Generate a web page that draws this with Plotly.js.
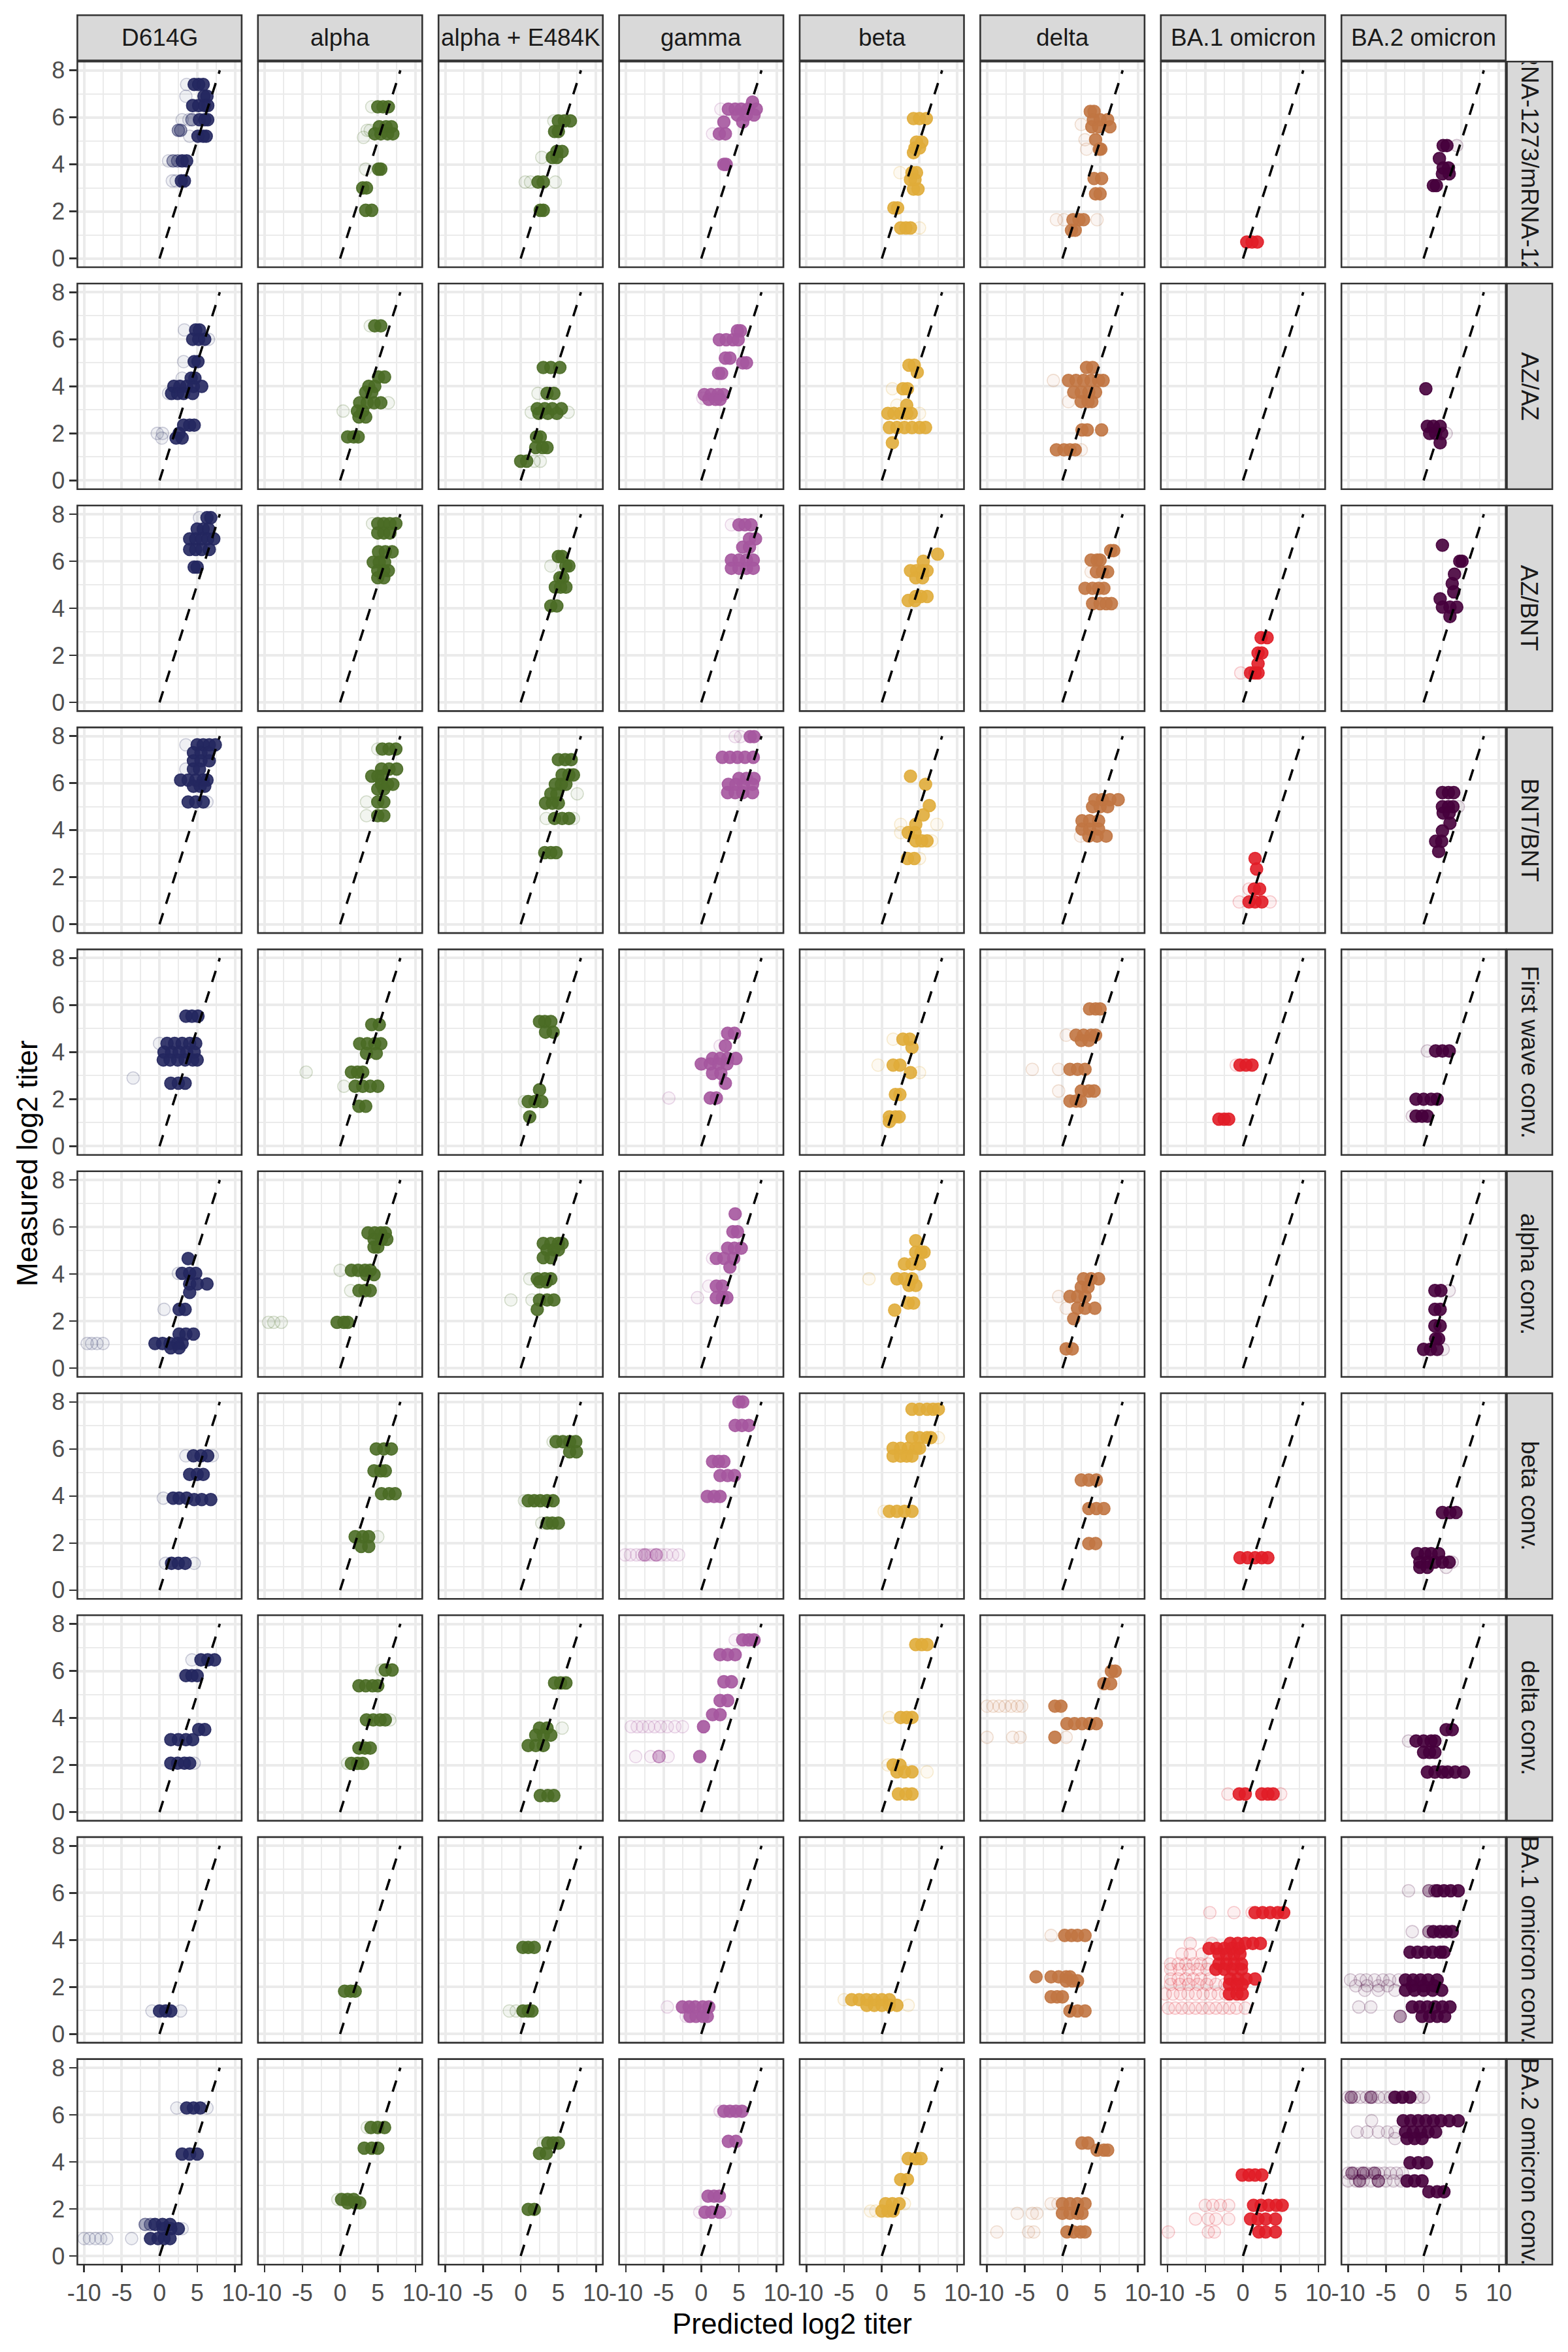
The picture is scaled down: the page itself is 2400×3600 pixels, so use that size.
<!DOCTYPE html>
<html><head><meta charset="utf-8">
<script src="https://cdn.plot.ly/plotly-3.0.1.min.js"></script>
<style>html,body{margin:0;padding:0;background:#fff}#plot{width:2400px;height:3600px}</style>
</head><body><div id="plot"></div>
<script>
// ---------------- data ----------------
const variants = ["D614G","alpha","alpha + E484K","gamma","beta","delta","BA.1 omicron","BA.2 omicron"];
const sera = ["mRNA-1273/mRNA-1273","AZ/AZ","AZ/BNT","BNT/BNT","First wave conv.","alpha conv.","beta conv.","delta conv.","BA.1 omicron conv.","BA.2 omicron conv."];
const variantColors = ["#23275F","#4A6C25","#4A6C25","#A5579F","#E0AC3A","#C17642","#E11D27","#46003C"];
const xTicks = [-10,-5,0,5,10];
const xTickText = ["-10","-5","0","5","10"];
const yTicks = [0,2,4,6,8];
const xMinor = [-7.5,-2.5,2.5,7.5];
const yMinor = [1,3,5,7];
const identityLine = [0,8];
// each panel: clusters of [measured titer, opacity level, [predicted titers...]]
const mrna1273 = [
 [[7.4,1,[4.6,5.2,5.8]],[7.4,0.12,[3.6]],[6.9,0.12,[3.5]],[6.9,1,[5.9,6.3]],[6.5,1,[4.4,5.2,6.0,6.4]],[5.9,0.12,[3.0,3.9]],[5.9,0.4,[4.3]],[5.9,1,[5.3,6.0,6.4]],[5.45,0.4,[2.5,2.8]],[5.2,0.12,[4.0]],[5.2,1,[5.1,5.8,6.2]],[4.15,0.12,[1.2]],[4.15,0.4,[1.8,2.4]],[4.15,1,[3.0,3.6]],[3.3,0.12,[1.7,2.2]],[3.3,1,[2.9,3.3]]],
 [[6.45,0.12,[4.2]],[6.45,1,[5.0,5.7,6.4]],[5.6,1,[5.2,6.1,6.8]],[5.3,1,[4.6,5.4,6.3,7.0]],[5.45,0.12,[3.6,4.0]],[5.15,0.12,[3.1]],[3.8,0.12,[3.4]],[3.8,1,[5.1,5.4]],[3.0,1,[3.0,3.5]],[2.05,1,[3.4,4.2]]],
 [[5.85,1,[5.0,5.8,6.6]],[5.85,0.12,[4.4]],[5.4,1,[4.5,5.0]],[4.55,1,[4.8,5.5]],[4.3,1,[4.2,4.8]],[4.3,0.12,[2.8]],[3.25,0.12,[0.6,1.3,4.6]],[3.25,1,[2.3,3.0]],[2.05,1,[2.6,3.0]]],
 [[6.65,1,[6.8]],[6.35,0.12,[2.6]],[6.35,1,[3.6,4.5,5.3,6.2,7.3]],[6.1,1,[4.8,6.0,7.0]],[5.8,1,[3.0,5.5]],[5.3,1,[2.4,3.2]],[5.3,0.12,[1.5]],[4.0,1,[3.0,3.3]]],
 [[5.95,1,[4.2,5.0,5.9]],[4.95,1,[4.6,5.3]],[4.7,1,[4.4,5.0]],[4.5,1,[4.2]],[3.65,0.12,[2.4]],[3.65,1,[4.0,4.6]],[3.35,1,[3.8,4.4]],[2.95,1,[4.2,4.8]],[2.15,1,[1.6,2.1]],[1.3,1,[2.5,3.2,3.8]],[1.3,0.12,[5.0]]],
 [[6.25,1,[3.7,4.2]],[5.9,1,[4.1,5.0,6.0]],[5.7,0.12,[2.5]],[5.6,1,[3.9,4.8,6.3]],[5.05,0.12,[3.0]],[5.05,1,[4.4]],[4.65,0.12,[3.2]],[4.65,1,[4.9,5.1]],[3.4,1,[4.2,5.2]],[2.75,1,[4.4,5.0]],[1.65,0.12,[-0.8,0.2,4.6]],[1.65,1,[1.4,2.2,2.8]],[1.2,1,[1.2,1.7]]],
 [[0.7,1,[0.5,1.2,1.9]]],
 [[4.8,1,[2.6,3.1]],[4.8,0.12,[4.4]],[4.25,1,[2.1]],[3.85,1,[2.6,3.3]],[3.6,1,[2.5,3.4]],[3.1,1,[1.3,1.7]]]
];
const azAz = [
 [[6.4,0.12,[3.3]],[6.4,1,[4.8,5.3]],[6.0,1,[4.4,5.2,6.0]],[6.0,0.12,[6.5]],[5.05,0.12,[3.2]],[5.05,1,[4.6,5.1]],[4.35,0.12,[3.0]],[4.35,1,[4.2,4.7]],[4.0,1,[1.9,2.7,3.6,4.5,5.6]],[3.7,1,[1.6,2.4,3.2,4.4]],[3.7,0.12,[1.2]],[2.35,1,[3.2,4.0,4.6]],[2.0,0.12,[-0.3,0.4]],[2.0,1,[2.6]],[1.8,1,[2.2,3.0]],[1.8,0.12,[0.3]]],
 [[6.57,0.12,[4.0]],[6.57,1,[4.6,5.4]],[4.4,1,[5.1,5.9]],[4.0,1,[3.8,4.6]],[3.75,1,[3.4,4.2]],[3.3,1,[2.6,3.6,4.5,5.4]],[3.3,0.12,[6.4]],[2.95,0.12,[0.4]],[2.95,1,[2.3,3.0]],[2.7,1,[2.5,3.4]],[1.85,1,[1.0,1.8,2.4]]],
 [[4.8,1,[3.0,4.0,5.2]],[3.7,0.12,[2.3]],[3.7,1,[3.5,4.4]],[3.05,1,[2.2,3.2,4.2,5.4]],[2.85,1,[2.4,3.6,4.8]],[2.9,0.12,[1.4,6.3]],[1.85,1,[2.1,2.6]],[1.4,1,[2.0,2.9,3.5]],[0.82,1,[0.0,0.8]],[0.82,0.12,[1.8,2.6]]],
 [[6.36,1,[4.8,5.2]],[5.98,1,[2.4,3.3,4.2,4.9]],[5.2,1,[3.2,3.8]],[5.0,1,[5.5,6.0]],[4.55,1,[2.3,2.7]],[3.65,1,[0.4,1.3,2.2,2.9]],[3.45,1,[1.0,1.9,2.5]],[3.5,0.12,[0.2]]],
 [[4.9,1,[3.6,4.3]],[4.6,1,[4.7]],[3.9,0.12,[1.4]],[3.9,1,[2.8,3.4]],[3.2,0.12,[2.0]],[3.2,1,[3.3]],[2.85,1,[0.8,1.6,2.5,3.3,3.9]],[2.85,0.12,[5.0]],[2.25,1,[1.0,2.0,3.0,4.0,5.0,5.8]],[1.6,1,[1.4]]],
 [[4.8,1,[3.2,4.0]],[4.25,0.12,[-1.2]],[4.25,1,[0.8,1.8,2.8,3.8,4.8,5.4]],[3.75,1,[1.5,2.5,3.5,4.4]],[3.35,0.12,[0.8]],[3.35,1,[2.5,3.4,3.9]],[2.15,1,[2.6,3.3,5.2]],[1.3,1,[-0.8,0.2,1.0,1.7]],[1.3,0.12,[2.5]]],
 [],
 [[3.9,1,[0.3]],[2.3,1,[0.5,1.3,2.2]],[2.0,1,[0.8,1.6,2.4]],[2.0,0.12,[3.0]],[1.6,1,[2.2]]]
];
const azBnt = [
 [[7.85,0.12,[5.3]],[7.85,1,[6.3,6.8]],[7.37,1,[5.0,5.8,6.5]],[6.95,1,[4.0,4.8,5.6,6.4,7.2]],[6.5,1,[4.0,4.8,5.6,6.6]],[5.75,1,[4.6,5.0]]],
 [[7.6,0.12,[4.3]],[7.6,1,[5.0,5.8,6.6,7.4]],[7.2,1,[5.0,5.8,6.6]],[6.4,1,[5.1,6.0,6.9]],[5.96,1,[4.4,5.2,5.9]],[5.6,1,[5.0,5.8,6.4]],[5.3,1,[5.0,5.8]]],
 [[6.2,1,[5.0,5.5]],[5.8,0.12,[4.0]],[5.8,1,[6.0,6.4]],[5.3,1,[5.2,5.6]],[4.9,1,[4.6,5.3,6.0]],[4.1,1,[4.0,4.8]]],
 [[7.55,0.12,[4.0]],[7.55,1,[5.0,5.8,6.6]],[6.95,1,[6.4,7.2]],[6.6,1,[5.5,6.4]],[6.05,1,[4.0,5.0,6.0,6.9]],[5.7,1,[4.0,5.0,6.0,6.9]]],
 [[6.3,1,[7.4]],[6.0,1,[5.5]],[5.6,1,[3.8,4.6,5.4,6.0]],[5.3,1,[4.5,5.4]],[4.5,1,[4.5,5.2,6.0]],[4.33,1,[3.5,4.4]]],
 [[6.45,1,[6.4,6.8]],[6.05,1,[3.8,4.6,5.0]],[5.55,1,[4.5,5.3,6.0]],[5.55,0.12,[3.8]],[4.85,1,[3.0,4.0,4.8,5.5]],[4.2,1,[4.0,5.0,5.8,6.5]]],
 [[2.75,1,[2.4,3.2]],[2.1,1,[2.0,2.5]],[1.65,1,[2.0]],[1.25,1,[1.0,1.6,2.0]],[1.25,0.12,[-0.3]]],
 [[6.68,1,[2.5]],[6.0,1,[4.8,5.1]],[5.45,1,[4.1]],[5.05,1,[3.8]],[4.7,1,[4.0]],[4.4,1,[2.2]],[4.05,1,[2.5,3.5,4.4]],[3.65,1,[3.5]]]
];
const bntBnt = [
 [[7.63,0.12,[3.5]],[7.63,1,[5.0,5.8,6.6,7.4]],[7.3,1,[4.5,5.5,6.5]],[6.95,1,[4.5,5.5,6.6]],[6.6,0.12,[3.5]],[6.6,1,[4.5,5.3]],[6.13,1,[2.8,3.8,4.8,5.8,6.3]],[5.87,1,[4.5,5.4,6.0]],[5.2,1,[3.8,4.8,5.8]],[5.2,0.12,[6.3]]],
 [[7.45,0.12,[5.0]],[7.45,1,[5.6,6.5,7.4]],[6.6,1,[5.5,6.5,7.5]],[6.3,1,[4.2,5.0,5.5]],[5.95,1,[5.5,6.3,7.0]],[5.75,1,[5.0,5.8]],[5.2,0.12,[3.5]],[5.2,1,[5.0,5.8]],[4.62,0.12,[3.5]],[4.62,1,[5.0,5.8]]],
 [[7.0,1,[5.0,5.9,6.7]],[6.35,1,[5.5,6.4,7.0]],[5.95,1,[4.6,5.4,6.0]],[5.55,1,[4.0,4.8]],[5.55,0.12,[7.5]],[5.15,1,[3.3,4.2,5.0]],[4.5,1,[4.5,5.5,6.4]],[4.5,0.12,[3.4,7.0]],[3.05,1,[3.2,4.0,4.7]]],
 [[7.98,0.12,[4.5,5.2]],[7.98,1,[6.5,7.0]],[7.1,1,[2.8,3.8,4.8,5.8,6.9]],[6.2,1,[5.0,6.0,7.0]],[5.95,1,[3.6,4.6,5.6,6.8]],[5.6,1,[3.5,4.5,5.5,6.8]]],
 [[6.3,1,[3.8]],[5.95,1,[5.8]],[5.05,1,[6.3]],[4.65,1,[5.5]],[4.25,1,[4.5]],[4.25,0.12,[2.5,7.3]],[3.9,0.12,[2.5]],[3.9,1,[3.5,4.4]],[3.55,1,[4.5,5.3,6.0]],[3.55,0.12,[6.6]],[2.8,1,[3.4,4.3]],[2.8,0.12,[5.0]]],
 [[5.3,1,[4.3,5.3,6.3,7.4]],[5.0,1,[4.0,5.0,6.0]],[4.4,1,[2.6,3.6,4.8]],[4.05,1,[2.6,3.6,4.8]],[3.75,0.12,[2.4]],[3.75,1,[3.5,4.6,5.8]]],
 [[2.8,1,[1.6]],[2.35,1,[1.8]],[1.5,1,[1.5,2.2]],[1.5,0.12,[0.8]],[0.95,0.12,[-0.5,3.6]],[0.95,1,[0.8,1.6,2.5]]],
 [[5.6,1,[2.5,3.3,4.0]],[5.0,1,[2.5,3.3,3.9]],[5.0,0.12,[4.6]],[4.73,1,[2.6,3.4]],[4.3,1,[3.5]],[3.97,1,[2.5]],[3.53,1,[1.6,2.4]],[3.1,1,[2.0]]]
];
const firstWaveConv = [
 [[5.53,1,[3.5,4.3,5.1]],[4.37,0.12,[0.0]],[4.37,1,[1.0,2.0,3.0,4.0,4.8]],[4.0,1,[0.6,1.6,2.6,3.6,4.6]],[3.67,1,[0.5,1.4,2.4,3.4,4.4,5.0]],[2.9,0.12,[-3.5]],[2.68,1,[1.5,2.5,3.4]]],
 [[5.17,1,[4.2,5.2]],[4.36,1,[2.6,3.6,4.6,5.4]],[3.95,1,[3.5,4.8]],[3.15,0.12,[-4.5]],[3.15,1,[1.5,2.3,3.0]],[2.55,0.12,[0.5]],[2.55,1,[2.0,3.0,4.0,5.0]],[1.7,1,[2.5,3.4]]],
 [[5.3,1,[2.5,3.2,4.0]],[4.85,1,[3.3,4.3]],[2.4,1,[2.5]],[1.9,0.12,[0.5]],[1.9,1,[1.0,1.9,2.8]],[1.25,1,[1.2]]],
 [[4.8,1,[3.5,4.4]],[4.27,0.12,[2.5]],[4.27,1,[3.2]],[3.73,1,[1.5,2.5,3.5,4.6]],[3.5,0.12,[0.5]],[3.5,1,[0.0,1.2,2.3,3.4]],[3.1,1,[1.5,2.6]],[2.68,1,[3.2]],[2.05,0.12,[-4.3]],[2.05,1,[1.2,2.0]]],
 [[4.55,0.12,[1.5]],[4.55,1,[2.8,3.7]],[4.2,1,[4.0]],[3.45,0.12,[-0.5]],[3.45,1,[1.5,2.4]],[3.13,1,[3.8]],[3.13,0.12,[5.0]],[2.2,1,[1.8,2.4]],[1.25,1,[1.0,1.8,2.3]],[1.05,1,[1.0]]],
 [[5.84,1,[3.6,4.4,5.0]],[4.72,0.12,[0.5]],[4.72,1,[1.8,2.8,3.8,4.4]],[4.5,1,[2.5,3.5]],[3.27,0.12,[-4.0,-0.5]],[3.27,1,[1.0,2.0,3.0]],[2.35,0.12,[-0.5]],[2.35,1,[2.5,3.5,4.2]],[1.92,1,[1.0,1.8,2.4]]],
 [[3.45,0.12,[-0.9]],[3.45,1,[-0.4,0.4,1.2]],[1.15,1,[-3.2,-2.5,-1.9]]],
 [[4.05,0.12,[0.5]],[4.05,1,[1.6,2.5,3.4]],[2.0,1,[-1.0,0.0,1.0,1.8]],[1.28,0.12,[-1.5]],[1.28,1,[-1.0,-0.2,0.5]]]
];
const alphaConv = [
 [[4.66,1,[3.8]],[4.03,0.12,[2.5]],[4.03,1,[3.0,4.0,4.8]],[3.58,1,[4.0,5.0,6.3]],[3.22,1,[4.0]],[2.5,0.12,[0.6]],[2.5,1,[2.6,3.4]],[1.45,1,[2.6,3.5,4.5]],[1.05,0.12,[-9.6,-9.0,-8.3,-7.5]],[1.05,1,[-0.6,0.4,1.4,2.4,3.0]],[0.87,1,[1.5,2.6]]],
 [[5.75,1,[3.7,4.6,5.4,6.0]],[5.48,1,[4.5,5.5,6.2]],[5.15,1,[4.5,5.0]],[4.16,0.12,[0.0]],[4.16,1,[1.5,2.4,3.3,4.0]],[3.98,1,[3.5,4.5]],[3.3,0.12,[1.4]],[3.3,1,[2.5,3.3,4.0]],[1.95,0.12,[-9.5,-8.8,-7.8]],[1.95,1,[-0.4,0.5,1.0]]],
 [[5.3,1,[3.0,4.0,5.0,5.5]],[5.03,1,[3.5,4.4,5.0]],[4.7,1,[3.0,4.0]],[3.8,0.12,[1.2]],[3.8,1,[2.2,3.2,4.0]],[3.67,1,[2.5,3.4]],[2.9,0.12,[-1.3,1.5]],[2.9,1,[2.5,3.5,4.4]],[2.5,1,[2.2]]],
 [[6.56,1,[4.5]],[5.8,1,[4.2,4.8]],[5.1,1,[3.5,4.4,5.3]],[4.67,0.12,[1.5]],[4.67,1,[2.0,3.0,4.3]],[4.3,1,[3.8]],[3.49,0.12,[1.0]],[3.49,1,[2.0,2.8]],[3.0,0.12,[-0.5]],[3.0,1,[2.0,2.8,3.4]]],
 [[5.42,1,[4.5]],[4.93,1,[4.5,5.2,5.6]],[4.43,1,[3.0,4.0,5.0]],[3.8,0.12,[-1.7]],[3.8,1,[2.0,3.0,4.0]],[3.52,1,[3.6,4.5]],[2.77,1,[3.5,4.2]],[2.47,1,[1.7]]],
 [[3.8,1,[2.8,3.8,4.8]],[3.45,1,[2.5,3.4]],[3.05,0.12,[-0.5]],[3.05,1,[1.0,2.0,3.0]],[2.55,0.12,[0.5]],[2.55,1,[2.0,3.0,4.3]],[2.1,1,[1.5]],[0.82,1,[0.5,1.3]]],
 [],
 [[3.3,1,[1.5,2.3]],[3.3,0.12,[3.4]],[2.5,1,[1.5,2.2]],[1.8,1,[1.5,2.2]],[1.25,1,[1.6,2.0]],[0.8,1,[0.0,0.9,1.8]],[0.8,0.12,[2.6]]]
];
const betaConv = [
 [[5.71,0.12,[3.5,7.0]],[5.71,1,[4.5,5.5,6.4]],[4.92,1,[4.0,5.0,5.8]],[3.91,0.12,[0.5]],[3.91,1,[1.8,2.6,3.6]],[3.85,1,[4.6,5.6,6.8]],[1.14,0.12,[0.8,4.6]],[1.14,1,[1.6,2.5,3.4]]],
 [[6.0,1,[4.8,5.8,6.8]],[5.07,1,[4.5,5.4,6.0]],[4.1,1,[5.5,6.5,7.3]],[2.27,1,[2.0,3.0,3.8]],[2.27,0.12,[5.0]],[1.86,1,[2.8,3.8]]],
 [[6.31,0.12,[4.3]],[6.31,1,[4.7,5.6,6.5,7.3]],[5.88,1,[6.5,7.4]],[3.8,0.12,[0.5]],[3.8,1,[1.0,1.8,2.6,3.5,4.3]],[2.85,0.12,[2.8]],[2.85,1,[3.5,4.2,5.0]]],
 [[8.0,1,[5.0,5.5]],[7.0,1,[4.5,5.4,6.3]],[5.47,1,[1.5,2.3,3.0]],[4.87,1,[2.5,3.5,4.4]],[3.98,1,[0.8,1.7,2.5]],[1.5,0.12,[-10.1,-9.4,-8.6,-7.9,-7.2,-6.6,-5.9,-5.3,-4.6,-3.8,-3.0]],[1.5,0.4,[-7.5,-6.0]]],
 [[7.69,1,[4.0,5.0,6.0,6.8,7.5]],[6.48,1,[4.0,5.0,6.0,6.5]],[6.48,0.12,[7.5]],[6.03,1,[1.5,2.5,3.5,4.5,5.0]],[5.7,1,[1.5,2.5,3.3,4.0]],[3.35,0.12,[0.3]],[3.35,1,[1.0,2.0,3.0,4.0]]],
 [[4.68,1,[2.5,3.5,4.5]],[3.47,1,[3.5,4.5,5.5]],[1.98,1,[3.5,4.4]]],
 [[1.38,1,[-0.4,0.6,1.6,2.5,3.3]]],
 [[3.3,1,[2.5,3.5,4.3]],[1.55,1,[-0.8,0.2,1.0,2.0]],[1.19,1,[-0.5,0.5,1.5,2.5,3.4]],[1.19,0.12,[3.8]],[0.97,1,[-0.5,0.5]],[0.97,0.12,[3.0]]]
];
const deltaConv = [
 [[6.47,0.12,[4.3]],[6.47,1,[5.5,6.4,7.3]],[5.8,1,[3.5,4.3,5.0]],[3.51,1,[5.2,6.0]],[3.08,1,[1.5,2.5,3.5,4.4]],[2.08,1,[1.5,2.4,3.3,4.0]],[2.08,0.12,[4.6]]],
 [[6.04,0.12,[5.5]],[6.04,1,[6.0,6.9]],[5.37,1,[2.5,3.4,4.3,5.0]],[3.92,1,[3.5,4.4,5.3,6.0]],[3.92,0.12,[6.6]],[2.72,1,[2.5,3.3,4.0]],[2.07,0.12,[1.0]],[2.07,1,[1.5,2.3,3.0]]],
 [[5.49,1,[4.5,5.3,6.0]],[3.57,0.12,[5.5]],[3.57,1,[2.5,3.5]],[3.27,1,[2.0,3.0,4.0]],[2.83,1,[1.0,2.0,3.0]],[0.7,1,[2.6,3.6,4.4]]],
 [[7.32,0.12,[4.5]],[7.32,1,[5.5,6.3,7.0]],[6.69,1,[2.5,3.5,4.5]],[5.54,1,[3.0,4.0]],[4.74,1,[2.5,3.5]],[4.14,1,[1.5,2.5]],[3.63,0.12,[-9.3,-8.5,-7.8,-7.0,-6.2,-5.4,-4.5,-3.5,-2.5]],[3.63,1,[0.3]],[2.36,0.12,[-8.7,-6.7,-5.6,-4.4]],[2.36,0.4,[-5.6]],[2.36,1,[-0.2]]],
 [[7.12,1,[4.5,5.3,6.0]],[4.02,0.12,[1.0]],[4.02,1,[2.5,3.3,4.0]],[2.0,0.12,[0.8]],[2.0,1,[1.5,2.4]],[1.71,1,[2.0,3.0,4.0]],[1.71,0.12,[6.0]],[0.77,1,[2.2,3.2,4.0]]],
 [[5.99,1,[6.5,7.0]],[5.46,1,[5.5,6.4]],[4.5,0.12,[-10.0,-9.2,-8.4,-7.6,-6.8,-6.0,-5.4]],[4.5,1,[-1.0,-0.2]],[3.76,1,[0.6,1.6,2.6,3.6,4.5]],[3.18,0.12,[-10.0,-6.6,-5.6,0.5]],[3.18,1,[-1.0]]],
 [[0.77,0.12,[-2.0,5.0]],[0.77,1,[-0.5,0.3,2.5,3.3,4.0]]],
 [[3.5,1,[3.0,3.8]],[3.02,0.12,[-2.0]],[3.02,1,[-1.0,0.0,1.0,1.5]],[2.54,1,[0.0,0.8,1.5]],[1.7,1,[0.5,1.5,2.5,3.2,4.2,5.3]]]
];
const ba1Conv = [
 [[0.98,0.12,[-1.0,2.8]],[0.98,1,[0.0,0.8,1.5]]],
 [[1.82,1,[0.6,1.4,2.0]]],
 [[3.68,1,[0.3,1.0,1.8]],[0.98,0.12,[-1.5,-0.6]],[0.98,1,[0.3,1.0,1.5]]],
 [[1.15,0.12,[-4.5]],[1.15,1,[-2.5,-1.6,-0.8,0.2,1.0]],[0.75,0.12,[-2.0]],[0.75,1,[-1.5,-0.7,0.2,0.8]]],
 [[1.46,0.12,[-5.0]],[1.46,1,[-4.0,-3.0,-2.0,-1.0,0.0,1.0]],[1.22,1,[-2.0,-1.0,0.0,1.0,2.0]],[1.22,0.12,[3.5]]],
 [[4.19,0.12,[-1.5]],[4.19,1,[0.3,1.2,2.0,3.0]],[2.43,1,[-3.5,-1.5,-0.5,0.5,1.0]],[2.26,1,[0.5,1.3,2.0]],[1.58,1,[-1.5,-0.7,0.0]],[0.98,1,[1.0,2.0,3.0]]],
 [[5.16,0.12,[-4.4,-1.2,1.2]],[5.16,1,[1.6,2.6,3.6,4.6,5.4]],[3.85,0.12,[-7.0,-4.1]],[3.85,1,[-1.7,-0.7,0.3,1.3,2.3]],[3.64,1,[-4.5,-3.5,-2.5,-1.5,-0.5]],[3.4,0.12,[-8.1,-7.0,-5.4]],[3.4,1,[-3.2,-2.2,-1.2,-0.4]],[2.98,0.12,[-9.6,-8.6,-7.6,-6.6,-5.6,-4.6]],[2.98,1,[-3.2,-2.2,-1.2,-0.2]],[2.75,0.12,[-9.6,-8.4,-7.2,-6.0,-4.8,-3.6]],[2.75,1,[-3.6,-2.5,-1.4,-0.2]],[2.34,0.12,[-9.6,-8.6,-7.6,-6.6,-5.6,-4.4]],[2.34,1,[-1.7,-0.7,0.4,1.6]],[2.11,0.12,[-9.6,-8.4,-7.2,-6.0,-4.8,-3.6,-2.4]],[2.11,1,[-1.8,-0.8,-0.1]],[1.7,0.12,[-10.3,-9.3,-8.3,-7.3,-6.3,-5.3,-4.3,-3.3,-2.3,-1.5]],[1.7,1,[-1.8,-0.8,-0.1]],[1.1,0.12,[-9.9,-9.0,-8.1,-7.2,-6.3,-5.4,-4.5,-3.6,-2.7,-1.8,-0.9,0.3]]],
 [[6.09,0.12,[-2.0]],[6.09,0.4,[0.7,1.5]],[6.09,1,[1.8,2.7,3.6,4.6]],[4.35,0.12,[-1.5]],[4.35,0.4,[0.7]],[4.35,1,[1.3,2.2,3.0,3.8]],[3.48,1,[-1.8,-0.8,0.2,1.2,2.2,2.7]],[2.3,0.12,[-9.7,-8.4,-7.6,-6.5,-5.4,-4.5,-3.3]],[2.3,1,[-2.4,-1.4,-0.4,0.6,1.8]],[2.05,0.12,[-9.0,-7.5,-6.0,-4.8]],[2.05,1,[-1.5,0.0,1.4]],[1.86,0.12,[-7.8,-6.0,-3.8]],[1.86,1,[-2.4,-1.2,0.0,1.2,2.4]],[1.15,0.12,[-8.6,-7.0]],[1.15,1,[-1.5,-0.5,0.5,1.5,2.5,3.5]],[0.75,0.4,[-3.1]],[0.75,1,[-0.2,0.8,1.8,2.8]]]
];
const ba2Conv = [
 [[6.29,0.12,[2.3,6.3]],[6.29,1,[3.6,4.5,5.4]],[4.33,1,[3.0,4.0,5.0]],[1.34,0.4,[-1.9,-1.2]],[1.34,1,[-0.6,0.4,1.4]],[1.16,1,[0.5,1.5,2.5]],[1.16,0.12,[3.0]],[0.74,0.12,[-10.0,-9.3,-8.5,-7.8,-7.0,-3.7]],[0.74,1,[-1.2,-0.2,0.6,1.4]]],
 [[5.46,0.12,[3.6]],[5.46,1,[4.1,5.0,5.9]],[4.58,1,[3.2,4.2,5.0]],[2.4,0.12,[-0.3]],[2.4,1,[0.2,1.0,1.8]],[2.26,1,[1.0,2.0,2.6]]],
 [[4.8,0.12,[3.0]],[4.8,1,[3.6,4.3,5.0]],[4.36,1,[2.5,3.4]],[1.98,1,[1.0,1.8]]],
 [[6.15,0.12,[2.5]],[6.15,1,[3.0,3.8,4.6,5.4]],[4.87,1,[3.6,4.6]],[2.54,1,[0.9,1.7,2.4]],[1.86,0.12,[-0.2,3.2]],[1.86,1,[0.5,1.4,2.4]]],
 [[4.14,1,[3.5,4.5,5.2]],[3.25,1,[2.5,3.4]],[2.22,1,[0.5,1.4,2.3]],[2.22,0.12,[3.0]],[1.91,0.12,[-1.5,-0.8]],[1.91,1,[0.0,0.8,1.5]]],
 [[4.8,1,[2.6,3.4]],[4.5,1,[4.6,5.5,6.0]],[2.22,0.12,[-1.5,-0.6]],[2.22,1,[0.0,1.0,2.0,3.0]],[1.81,0.12,[-6.0,-4.0,-3.4]],[1.81,1,[0.0,1.0,2.0,2.6]],[1.02,0.12,[-8.7,-4.5,-3.8]],[1.02,1,[0.6,1.5,2.4,3.0]]],
 [[3.44,1,[-0.1,0.8,1.6,2.5]],[2.15,0.12,[-5.0,-4.0,-3.0,-1.9]],[2.15,1,[1.4,2.4,3.4,4.4,5.2]],[1.57,0.12,[-6.3,-4.6,-3.6,-1.9]],[1.57,1,[1.0,2.0,3.0,4.3]],[1.02,0.12,[-9.9,-4.6,-3.8]],[1.02,1,[2.1,3.0,4.3]]],
 [[6.75,0.12,[-10.0,-9.2,-8.4,-7.6,-6.8,-6.0,-5.2,-4.4,-3.0,-0.8,0.0]],[6.75,0.4,[-9.6,-7.0]],[6.75,1,[-3.8,-2.8,-1.8]],[5.75,0.12,[-6.9]],[5.75,1,[-2.7,-1.7,-0.7,0.3,1.3,2.3,3.4,4.6]],[5.27,0.12,[-8.8,-7.5,-6.0,-4.8,-3.8]],[5.27,1,[-2.4,-1.4,-0.4,0.6,1.6]],[4.99,0.12,[-3.8]],[4.99,1,[-2.2,-1.2,-0.2]],[3.96,1,[-1.8,-0.7,0.4]],[3.52,0.12,[-10.0,-9.2,-8.4,-7.6,-6.8,-6.0,-5.2,-4.4,-3.6,-2.8]],[3.52,0.4,[-9.5,-8.0,-6.5]],[3.19,0.12,[-10.0,-9.0,-8.0,-7.0,-6.0,-5.0,-4.0,-3.0]],[3.19,0.4,[-8.5,-6.0]],[3.19,1,[-2.2,-1.2,-0.2]],[2.73,1,[0.7,1.8,2.7]]]
];
const panelRows = [mrna1273, azAz, azBnt, bntBnt, firstWaveConv, alphaConv, betaConv, deltaConv, ba1Conv, ba2Conv];

// ---------------- layout geometry (px) ----------------
const W = 2400, H = 3600;
const COL0 = 118.4, COLSTEP = 276.4, PW = 251.5;
const ROW0 = 94.3, ROWSTEP = 339.7, PH = 314.7;
const STRIP_TOP = [23.3, 92.5];
const STRIP_RIGHT = [2306.5, 2376];
const FONT = '"Liberation Sans", Arial, Helvetica, sans-serif';

function rgba(hex, a) {
  const n = parseInt(hex.slice(1), 16);
  return `rgba(${(n>>16)&255},${(n>>8)&255},${n&255},${a})`;
}
const fillAlpha = {1:0.9, 0.4:0.4, 0.12:0.07};
const lineAlpha = {1:0.9, 0.4:0.55, 0.12:0.22};

const traces = [];
const layout = {
  width: W, height: H, margin: {l:0, r:0, t:0, b:0},
  paper_bgcolor: '#ffffff', plot_bgcolor: '#ffffff',
  showlegend: false, shapes: [], annotations: [],
  font: {family: FONT, color: '#1A1A1A'}
};

for (let r = 0; r < sera.length; r++) {
  for (let c = 0; c < variants.length; c++) {
    const k = r * variants.length + c + 1;
    const left = COL0 + c * COLSTEP, top = ROW0 + r * ROWSTEP;
    const xa = 'xaxis' + k, ya = 'yaxis' + k;
    const xs = [], ys = [], fc = [], lc = [];
    for (const [yv, a, xlist] of panelRows[r][c]) {
      for (const xv of xlist) {
        xs.push(xv); ys.push(yv);
        fc.push(rgba(variantColors[c], fillAlpha[a]));
        lc.push(rgba(variantColors[c], lineAlpha[a]));
      }
    }
    traces.push({
      type: 'scatter', mode: 'markers', x: xs, y: ys,
      xaxis: 'x' + k, yaxis: 'y' + k, hoverinfo: 'skip',
      marker: {size: 19, color: fc, line: {color: lc, width: 1.6}}
    });
    traces.push({
      type: 'scatter', mode: 'lines', x: identityLine, y: identityLine,
      xaxis: 'x' + k, yaxis: 'y' + k, hoverinfo: 'skip',
      line: {color: '#000000', width: 3.6, dash: '18px,15px'}
    });
    const bottomRow = r === sera.length - 1, leftCol = c === 0;
    layout[xa] = {
      domain: [left / W, (left + PW) / W], anchor: 'y' + k,
      range: [-10.9, 10.9], tickmode: 'array', tickvals: xTicks, ticktext: xTickText,
      showticklabels: bottomRow, ticks: bottomRow ? 'outside' : '',
      ticklen: 11, tickwidth: 2.6, tickcolor: '#333333',
      tickfont: {family: FONT, size: 36, color: '#4D4D4D'},
      showgrid: true, gridcolor: '#EBEBEB', gridwidth: 4,
      minor: {tickmode: 'array', tickvals: xMinor, showgrid: true, gridcolor: '#EBEBEB', gridwidth: 2, ticks: ''},
      zeroline: false, showline: false, fixedrange: true
    };
    layout[ya] = {
      domain: [1 - (top + PH) / H, 1 - top / H], anchor: 'x' + k,
      range: [-0.37, 8.37], tickmode: 'array', tickvals: yTicks,
      showticklabels: leftCol, ticks: leftCol ? 'outside' : '',
      ticklen: 11, tickwidth: 2.6, tickcolor: '#333333',
      tickfont: {family: FONT, size: 36, color: '#4D4D4D'},
      showgrid: true, gridcolor: '#EBEBEB', gridwidth: 4,
      minor: {tickmode: 'array', tickvals: yMinor, showgrid: true, gridcolor: '#EBEBEB', gridwidth: 2, ticks: ''},
      zeroline: false, showline: false, fixedrange: true
    };
    layout.shapes.push({type: 'rect', xref: 'paper', yref: 'paper', layer: 'above',
      x0: left / W, x1: (left + PW) / W, y0: 1 - (top + PH) / H, y1: 1 - top / H,
      line: {color: '#333333', width: 2.6}, fillcolor: 'rgba(0,0,0,0)'});
  }
}
// top strips
for (let c = 0; c < variants.length; c++) {
  const left = COL0 + c * COLSTEP;
  layout.shapes.push({type: 'rect', xref: 'paper', yref: 'paper', layer: 'below',
    x0: left / W, x1: (left + PW) / W, y0: 1 - STRIP_TOP[1] / H, y1: 1 - STRIP_TOP[0] / H,
    line: {color: '#333333', width: 2.6}, fillcolor: '#D9D9D9'});
  layout.annotations.push({xref: 'paper', yref: 'paper', x: (left + PW / 2) / W,
    y: 1 - (STRIP_TOP[0] + STRIP_TOP[1]) / 2 / H, xanchor: 'center', yanchor: 'middle',
    text: variants[c], showarrow: false, font: {family: FONT, size: 37, color: '#1A1A1A'}});
}
// right strips
for (let r = 0; r < sera.length; r++) {
  const top = ROW0 + r * ROWSTEP;
  layout.shapes.push({type: 'rect', xref: 'paper', yref: 'paper', layer: 'below',
    x0: STRIP_RIGHT[0] / W, x1: STRIP_RIGHT[1] / W, y0: 1 - (top + PH) / H, y1: 1 - top / H,
    line: {color: '#333333', width: 2.6}, fillcolor: '#D9D9D9'});
  layout.annotations.push({xref: 'paper', yref: 'paper', x: (STRIP_RIGHT[0] + STRIP_RIGHT[1]) / 2 / W,
    y: 1 - (top + PH / 2) / H, xanchor: 'center', yanchor: 'middle', textangle: 90,
    text: sera[r], showarrow: false, font: {family: FONT, size: 37, color: '#1A1A1A'}});
}
// axis titles
layout.annotations.push({xref: 'paper', yref: 'paper', x: (COL0 + STRIP_RIGHT[1] - 70) / 2 / W, y: 1 - 3556 / H,
  xanchor: 'center', yanchor: 'middle', text: 'Predicted log2 titer', showarrow: false,
  font: {family: FONT, size: 44, color: '#000000'}});
layout.annotations.push({xref: 'paper', yref: 'paper', x: 41 / W, y: 1 - 1781 / H,
  xanchor: 'center', yanchor: 'middle', textangle: -90, text: 'Measured log2 titer', showarrow: false,
  font: {family: FONT, size: 44, color: '#000000'}});

Plotly.newPlot('plot', traces, layout, {staticPlot: true, displayModeBar: false}).then(gd => {
  // clip the strip label that is longer than its strip (as in the original facet strip)
  const ns = 'http://www.w3.org/2000/svg';
  gd.querySelectorAll('g.annotation').forEach(g => {
    if (g.textContent === sera[0]) {
      const svg = g.ownerSVGElement;
      const defs = document.createElementNS(ns, 'defs');
      const cp = document.createElementNS(ns, 'clipPath');
      cp.setAttribute('id', 'stripclip0');
      const rect = document.createElementNS(ns, 'rect');
      rect.setAttribute('x', STRIP_RIGHT[0]); rect.setAttribute('y', ROW0 + 1.5);
      rect.setAttribute('width', STRIP_RIGHT[1] - STRIP_RIGHT[0]); rect.setAttribute('height', PH - 3);
      cp.appendChild(rect); defs.appendChild(cp); svg.insertBefore(defs, svg.firstChild);
      g.setAttribute('clip-path', 'url(#stripclip0)');
    }
  });
});
</script></body></html>
